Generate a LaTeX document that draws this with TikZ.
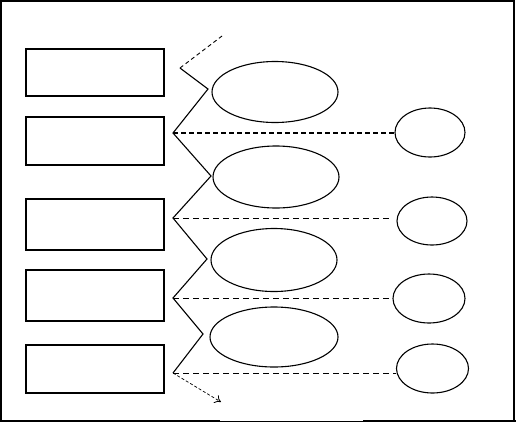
\documentclass[tikz,border=0pt]{standalone}
\usetikzlibrary{shapes.geometric,arrows.meta}
\begin{document}
\begin{tikzpicture}[x=1pt,y=-1pt,
  box/.style={draw,line width=1.1pt,minimum width=138pt,minimum height=47pt,inner sep=0pt},
  bigell/.style={draw,ellipse,line width=1.1pt,minimum width=126pt,minimum height=61pt,inner sep=0pt},
  smallell/.style={draw,ellipse,line width=1.1pt,minimum width=70pt,minimum height=49pt,inner sep=0pt},
  zig/.style={line width=1.1pt},
  thickdash/.style={line width=1.3pt,dash pattern=on 5pt off 3pt},
  thindash/.style={line width=0.8pt,dash pattern=on 6pt off 4pt},
  tinydash/.style={line width=0.7pt,dash pattern=on 3pt off 2pt}]
\useasboundingbox (0,0) rectangle (516,424);
\draw[line width=1.3pt] (1,421) -- (1,1) -- (514,1) -- (514,421);
\draw[line width=2.2pt] (0,421) -- (220,421);
\draw[line width=1pt] (220,421.5) -- (363,421.5);
\draw[line width=2.2pt] (363,421) -- (516,421);
% boxes
\node[box] (r1) at (95,72.5) {};
\node[box,minimum height=48pt] (r2) at (95,141) {};
\node[box,minimum height=51pt] (r3) at (95,224.5) {};
\node[box,minimum height=51pt] (r4) at (95,295.5) {};
\node[box,minimum height=48pt] (r5) at (95,369) {};
% big ellipses
\node[bigell] (e1) at (275,92) {};
\node[bigell,minimum height=62pt] (e2) at (276,177) {};
\node[bigell,minimum height=63pt] (e3) at (274,260) {};
\node[bigell,minimum width=128pt,minimum height=60pt] (e4) at (274,337) {};
% small ellipses
\node[smallell] (s1) at (430,132.5) {};
\node[smallell,minimum height=48pt] (s2) at (432,221) {};
\node[smallell,minimum width=72pt] (s3) at (429,298.5) {};
\node[smallell,minimum width=72pt,minimum height=49pt] (s4) at (432.5,368.5) {};
% zigzag points
\coordinate (t) at (222,36);
\coordinate (z0) at (180,68);
\coordinate (v1) at (208,89);
\coordinate (p1) at (173,133);
\coordinate (v2) at (211,176);
\coordinate (p2) at (173,218);
\coordinate (v3) at (207,259);
\coordinate (p3) at (173,298);
\coordinate (v4) at (203,334);
\coordinate (p4) at (173,373);
\coordinate (b) at (221,402);
\coordinate (q2) at (390,218);
\draw[zig] (z0) -- (v1) -- (p1) -- (v2) -- (p2) -- (v3) -- (p3) -- (v4) -- (p4);
\draw[line width=0.9pt,dash pattern=on 4pt off 3pt] (z0) -- (t);
\draw[tinydash,-{To[length=6pt,width=9pt,line width=0.8pt]}] (p4) -- (b);
% dashed connectors
\draw[thickdash] (p1) -- (p1 -| s1.west);
\draw[thindash] (p2) -- (q2);
\draw[thindash] (p3) -- (p3 -| s3.west);
\draw[thindash] (p4) -- (p4 -| s4.west);
\end{tikzpicture}
\end{document}
